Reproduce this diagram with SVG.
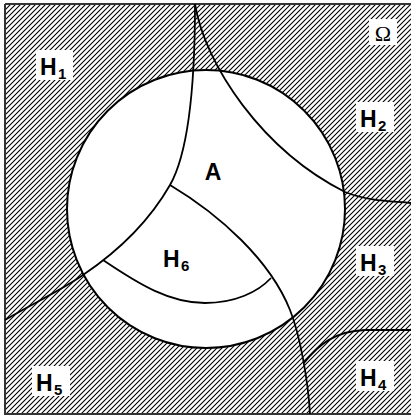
<svg xmlns="http://www.w3.org/2000/svg" width="411" height="416" viewBox="0 0 411 416">
<style>
.lbl{font-family:"Liberation Sans",Arial,sans-serif;font-weight:bold;fill:#000}
.big{font-size:23px}
.sub{font-size:15px}
.box{fill:#fff;stroke:none}
.curve{fill:none;stroke:#000;stroke-width:1.8}
</style>
<defs>
<pattern id="hatch" width="5" height="5" patternUnits="userSpaceOnUse">
<path d="M-1,1 L1,-1 M0,5 L5,0 M4,6 L6,4" stroke="#000" stroke-width="1.1"/>
</pattern>
<mask id="holes">
<rect x="0" y="0" width="411" height="416" fill="#fff"/>
<circle cx="206" cy="209" r="139" fill="#000"/>
</mask>
</defs>
<rect width="411" height="416" fill="#fff"/>
<g id="omega-region">
<rect x="5" y="4" width="410" height="410" fill="url(#hatch)" mask="url(#holes)"/>
<path d="M5,4 L415,4 M5,4 L5,414 L415,414" fill="none" stroke="#333" stroke-width="2"/>
</g>
<g id="circle-A">
<circle cx="206" cy="209" r="139" fill="none" stroke="#000" stroke-width="2"/>
</g>
<g id="connectors">
<path class="curve" d="M195,4 C205,65 262,150 345,192 C370,202 395,201 411,203"/>
<path class="curve" d="M195,4 C195,80 190,150 170,185 C150,220 120,250 83,275 C60,291 30,305 5,320"/>
<path class="curve" d="M170,185 C220,215 270,260 290,310 C300,335 308,380 310,414"/>
<path class="curve" d="M103,260 C140,285 170,303 205,303 C235,303 258,292 271,278"/>
<path class="curve" d="M304,363 C318,345 335,331 365,330 L411,330"/>
</g>
<g id="H1"><rect class="box" x="36" y="50" width="37" height="30"/><text class="lbl big" x="40" y="75">H</text><text class="lbl sub" x="58" y="79">1</text></g>
<g id="Omega"><rect class="box" x="369" y="19" width="28" height="26"/><text x="383" y="41" text-anchor="middle" font-family="Liberation Serif,Times New Roman,serif" font-size="22" fill="#000">Ω</text></g>
<g id="H2"><rect class="box" x="356" y="102" width="38" height="30"/><text class="lbl big" x="360" y="127">H</text><text class="lbl sub" x="378" y="131">2</text></g>
<g id="A"><text class="lbl big" x="213" y="180" text-anchor="middle">A</text></g>
<g id="H3"><rect class="box" x="356" y="246" width="38" height="30"/><text class="lbl big" x="360" y="271">H</text><text class="lbl sub" x="378" y="275">3</text></g>
<g id="H6"><text class="lbl big" x="163" y="267">H</text><text class="lbl sub" x="181" y="271">6</text></g>
<g id="H4"><rect class="box" x="356" y="361" width="38" height="30"/><text class="lbl big" x="360" y="386">H</text><text class="lbl sub" x="378" y="390">4</text></g>
<g id="H5"><rect class="box" x="32" y="366" width="38" height="30"/><text class="lbl big" x="36" y="391">H</text><text class="lbl sub" x="54" y="395">5</text></g>
</svg>
